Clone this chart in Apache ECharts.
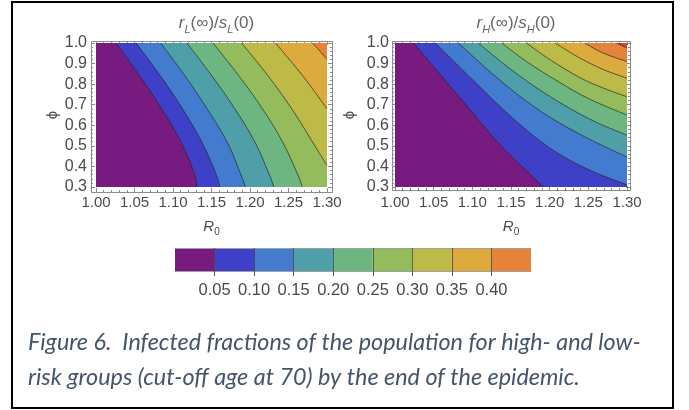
<!DOCTYPE html>
<html>
<head>
<meta charset="utf-8">
<title>Infected fractions by risk group</title>
<script src="https://cdn.jsdelivr.net/npm/echarts@6/dist/echarts.min.js"></script>
<style>
  html, body { margin: 0; padding: 0; background: #fff; }
  #main { width: 689px; height: 410px; }
</style>
</head>
<body>
<div id="main"></div>
<script>
// tick labels
var r0Ticks = [1.00, 1.05, 1.10, 1.15, 1.20, 1.25, 1.30];
var phiTicks = [0.3, 0.4, 0.5, 0.6, 0.7, 0.8, 0.9, 1.0];
var levels = [0.05, 0.10, 0.15, 0.20, 0.25, 0.30, 0.35, 0.40];
var bandColors = ['#781b80', '#3e41c8', '#437bcf', '#4f9fa9', '#6db682',
                  '#94bc5c', '#beba48', '#dcaa3d', '#e5833a', '#d9452c'];

// contour lines, [R0, phi]
var lowR05 = [[1.026, 1.0], [1.057, 0.838], [1.086, 0.676], [1.111, 0.514], [1.129, 0.352], [1.131, 0.3]];
var lowR10 = [[1.052, 1.0], [1.084, 0.838], [1.113, 0.676], [1.138, 0.514], [1.157, 0.352], [1.161, 0.3]];
var lowR15 = [[1.084, 1.0], [1.116, 0.838], [1.145, 0.676], [1.171, 0.514], [1.189, 0.352], [1.194, 0.3]];
var lowR20 = [[1.118, 1.0], [1.151, 0.838], [1.181, 0.676], [1.207, 0.514], [1.226, 0.352], [1.231, 0.3]];
var lowR25 = [[1.152, 1.0], [1.186, 0.838], [1.217, 0.676], [1.243, 0.514], [1.263, 0.352], [1.268, 0.3]];
var lowR30 = [[1.189, 1.0], [1.224, 0.838], [1.255, 0.676], [1.282, 0.514], [1.300, 0.405]];
var lowR35 = [[1.233, 1.0], [1.269, 0.838], [1.300, 0.680]];
var lowR40 = [[1.281, 1.0], [1.291, 0.960], [1.300, 0.920]];

// contour lines, [R0, phi]
var highR05 = [[1.024, 1.0], [1.050, 0.884], [1.100, 0.662], [1.131, 0.525], [1.160, 0.415], [1.192, 0.3]];
var highR10 = [[1.052, 1.0], [1.100, 0.822], [1.150, 0.642], [1.200, 0.490], [1.250, 0.385], [1.300, 0.311]];
var highR15 = [[1.082, 1.0], [1.120, 0.870], [1.160, 0.745], [1.200, 0.640], [1.250, 0.535], [1.300, 0.446]];
var highR20 = [[1.108, 1.0], [1.140, 0.900], [1.180, 0.790], [1.220, 0.695], [1.260, 0.615], [1.300, 0.552]];
var highR25 = [[1.138, 1.0], [1.170, 0.910], [1.210, 0.815], [1.250, 0.730], [1.300, 0.650]];
var highR30 = [[1.170, 1.0], [1.200, 0.920], [1.240, 0.830], [1.270, 0.780], [1.300, 0.739]];
var highR35 = [[1.207, 1.0], [1.240, 0.925], [1.270, 0.870], [1.300, 0.829]];
var highR40 = [[1.245, 1.0], [1.270, 0.950], [1.300, 0.910]];
var highR45 = [[1.286, 1.0], [1.300, 0.976]];

var captionLines = [
  'Figure 6.  Infected fractions of the population for high- and low-',
  'risk groups (cut-off age at 70) by the end of the epidemic.'
];

var R0_MIN = r0Ticks[0], R0_MAX = r0Ticks[r0Ticks.length - 1];
var PHI_MIN = phiTicks[0], PHI_MAX = phiTicks[phiTicks.length - 1];
var FONT = "'Liberation Sans', Arial, sans-serif";
var FRAME = '#8c8c8c';
var LABEL = '#4a4a4a';
var SMOOTH = 0.35;

var plots = [
  {
    left: 96, top: 43, width: 231, height: 144, pad: [2, 5, 5, 5],
    labelMargin: [3, 4], nameGap: [24, 31],
    title: '{i|r}{sub|L}{n|(\u221e)/}{i|s}{sub|L}{n|(0)}',
    contours: [lowR05, lowR10, lowR15, lowR20, lowR25, lowR30, lowR35, lowR40]
  },
  {
    left: 395, top: 43, width: 232, height: 144, pad: [2, 3, 3, 3],
    labelMargin: [5, 3], nameGap: [26, 35],
    title: '{i|r}{sub|H}{n|(\u221e)/}{i|s}{sub|H}{n|(0)}',
    contours: [highR05, highR10, highR15, highR20, highR25, highR30, highR35, highR40, highR45]
  }
];
var bar = { left: 175, top: 248, width: 356, height: 23 };

var titleRich = {
  i: { fontStyle: 'italic', fontWeight: 'normal', fontSize: 17, lineHeight: 17, color: '#666', fontFamily: FONT },
  n: { fontWeight: 'normal', fontSize: 17, lineHeight: 17, color: '#666', fontFamily: FONT },
  sub: { fontStyle: 'italic', fontWeight: 'normal', fontSize: 11, lineHeight: 23, verticalAlign: 'bottom', color: '#666', fontFamily: FONT }
};

var grids = [], xAxes = [], yAxes = [], series = [], titles = [], graphics = [];

function fillSeries(data, color, g, smooth) {
  return {
    type: 'line', xAxisIndex: g * 2, yAxisIndex: g * 2, data: data,
    smooth: smooth ? SMOOTH : false, symbol: 'none', silent: true, animation: false,
    lineStyle: { width: 0, opacity: 0 },
    areaStyle: { color: color, opacity: 1, origin: 'start' }
  };
}

plots.forEach(function (p, g) {
  grids.push({ left: p.left, top: p.top, width: p.width, height: p.height });

  var tick = { show: true, inside: true, length: 4, lineStyle: { color: FRAME } };
  var minor = { show: true, splitNumber: 5, length: 2, lineStyle: { color: FRAME } };

  xAxes.push({
    gridIndex: g, type: 'value', min: R0_MIN, max: R0_MAX, interval: 0.05,
    position: 'bottom', offset: p.pad[2],
    axisLine: { show: false }, axisTick: tick, minorTick: minor, splitLine: { show: false },
    axisLabel: { margin: p.labelMargin[0], color: LABEL, fontSize: 15, fontFamily: FONT,
                 formatter: function (v) { return v.toFixed(2); } },
    name: '{i|R}{sub|0}', nameLocation: 'middle', nameGap: p.nameGap[0],
    nameTextStyle: { rich: {
      i: { fontStyle: 'italic', fontSize: 15, lineHeight: 15, color: LABEL, fontFamily: FONT },
      sub: { fontSize: 10, lineHeight: 21, verticalAlign: 'bottom', color: LABEL, fontFamily: FONT }
    } }
  });
  xAxes.push({
    gridIndex: g, type: 'value', min: R0_MIN, max: R0_MAX, interval: 0.05,
    position: 'top', offset: p.pad[0],
    axisLine: { show: false }, axisTick: tick, minorTick: minor, splitLine: { show: false },
    axisLabel: { show: false }
  });
  yAxes.push({
    gridIndex: g, type: 'value', min: PHI_MIN, max: PHI_MAX, interval: 0.1,
    position: 'left', offset: p.pad[3],
    axisLine: { show: false }, axisTick: tick, minorTick: minor, splitLine: { show: false },
    axisLabel: { margin: p.labelMargin[1], color: LABEL, fontSize: 16, fontFamily: FONT,
                 formatter: function (v) { return v.toFixed(1); } },
    name: '\u03d5', nameLocation: 'middle', nameRotate: 90, nameGap: p.nameGap[1],
    nameTextStyle: { color: LABEL, fontSize: 15, fontFamily: FONT }
  });
  yAxes.push({
    gridIndex: g, type: 'value', min: PHI_MIN, max: PHI_MAX, interval: 0.1,
    position: 'right', offset: p.pad[1],
    axisLine: { show: false }, axisTick: tick, minorTick: minor, splitLine: { show: false },
    axisLabel: { show: false }
  });

  titles.push({
    text: p.title, left: p.left + p.width / 2, top: 7, textAlign: 'center',
    textStyle: { fontWeight: 'normal', rich: titleRich }
  });

  graphics.push({
    type: 'rect', silent: true, z: 10,
    shape: {
      x: p.left - p.pad[3] + 0.5, y: p.top - p.pad[0] + 0.5,
      width: p.width + p.pad[1] + p.pad[3], height: p.height + p.pad[0] + p.pad[2]
    },
    style: { fill: null, stroke: FRAME, lineWidth: 1 }
  });

  // filled bands: the top band first, then each contour paints the band below it
  var cs = p.contours;
  series.push(fillSeries([[R0_MIN, PHI_MAX], [R0_MAX, PHI_MAX]], bandColors[cs.length], g, false));
  for (var k = cs.length - 1; k >= 0; k--) {
    series.push(fillSeries([[R0_MIN, PHI_MAX], [cs[k][0][0] + 0.0015, PHI_MAX]], bandColors[k], g, false));
    series.push(fillSeries(cs[k], bandColors[k], g, true));
  }
  cs.forEach(function (c) {
    series.push({
      type: 'line', xAxisIndex: g * 2, yAxisIndex: g * 2, data: c,
      smooth: SMOOTH, symbol: 'none', silent: true, animation: false,
      lineStyle: { color: 'rgba(35,35,35,0.75)', width: 0.9 }
    });
  });
});

// colour scale
var CB = 2;
var cbMax = levels[levels.length - 1] + (levels[1] - levels[0]);
grids.push({ left: bar.left, top: bar.top, width: bar.width, height: bar.height });
xAxes.push({
  gridIndex: CB, type: 'value', min: 0, max: cbMax, position: 'bottom', z: 5,
  axisLine: { show: true, lineStyle: { color: '#a0a0a0' } },
  axisTick: { show: true, length: 5, customValues: levels, lineStyle: { color: '#555' } },
  axisLabel: { customValues: levels, margin: 11, color: LABEL, fontSize: 16.5, fontFamily: FONT,
               formatter: function (v) { return v.toFixed(2); } },
  splitLine: { show: false }
});
xAxes.push({
  gridIndex: CB, type: 'value', min: 0, max: cbMax, position: 'top', z: 5,
  axisLine: { show: true, lineStyle: { color: '#a0a0a0' } },
  axisTick: { show: true, inside: true, length: bar.height, customValues: levels,
              lineStyle: { color: 'rgba(55,55,55,0.7)' } },
  axisLabel: { show: false }, splitLine: { show: false }
});
yAxes.push({ gridIndex: CB, type: 'category', data: ['scale'], show: false });
for (var i = 0; i <= levels.length; i++) {
  var lo = i === 0 ? 0 : levels[i - 1];
  var hi = i === levels.length ? cbMax : levels[i];
  series.push({
    type: 'bar', xAxisIndex: 4, yAxisIndex: 4, stack: 'scale', data: [hi - lo],
    barWidth: '100%', silent: true, animation: false, itemStyle: { color: bandColors[i] }
  });
}

// caption sized to the width of its first line in the figure
var CAP_FAMILY = 'Lato, "Open Sans", sans-serif';
var ctx = document.createElement('canvas').getContext('2d');
ctx.font = 'italic 20px ' + CAP_FAMILY;
var capSize = 20 * 613 / ctx.measureText(captionLines[0]).width;
captionLines.forEach(function (line, n) {
  graphics.push({
    type: 'text', left: 28, top: 331 + n * 35, silent: true,
    style: { text: line, fill: '#44546a', fontStyle: 'italic', fontSize: capSize, fontFamily: CAP_FAMILY }
  });
});

// figure border
graphics.push({
  type: 'rect', silent: true, z: 20,
  shape: { x: 12, y: 2, width: 661, height: 406 },
  style: { fill: null, stroke: '#000', lineWidth: 2 }
});

var chart = echarts.init(document.getElementById('main'));
chart.setOption({
  animation: false,
  backgroundColor: '#fff',
  title: titles,
  grid: grids,
  xAxis: xAxes,
  yAxis: yAxes,
  series: series,
  graphic: graphics
});
</script>
</body>
</html>
